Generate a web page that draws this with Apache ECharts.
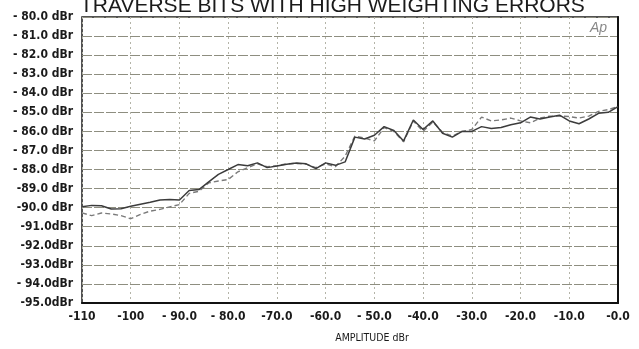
<!DOCTYPE html>
<html>
<head>
<meta charset="utf-8">
<script src="https://cdn.jsdelivr.net/npm/echarts@6/dist/echarts.min.js"></script>
<style>
  html, body { margin: 0; padding: 0; background: #ffffff; }
  #chart { width: 639px; height: 349px; }
</style>
</head>
<body>
<div id="chart"></div>
<script>
// Amplitude sweep points (dBr), 2 dB steps
const amplitude = [
  -110, -108, -106, -104, -102, -100, -98, -96, -94, -92,
  -90, -88, -86, -84, -82, -80, -78, -76, -74, -72,
  -70, -68, -66, -64, -62, -60, -58, -56, -54, -52,
  -50, -48, -46, -44, -42, -40, -38, -36, -34, -32,
  -30, -28, -26, -24, -22, -20, -18, -16, -14, -12,
  -10, -8, -6, -4, -2, 0
];

// Measured level, trace A (solid)
const levelA = [
  -89.95, -89.88, -89.90, -90.07, -90.06, -89.93, -89.82, -89.72, -89.60, -89.57,
  -89.60, -89.10, -89.05, -88.65, -88.25, -88.00, -87.74, -87.80, -87.65, -87.90,
  -87.82, -87.72, -87.66, -87.70, -87.95, -87.65, -87.78, -87.60, -86.30, -86.40,
  -86.20, -85.75, -85.95, -86.50, -85.40, -85.90, -85.45, -86.10, -86.30, -86.00,
  -86.00, -85.75, -85.85, -85.80, -85.65, -85.55, -85.25, -85.35, -85.25, -85.15,
  -85.45, -85.60, -85.35, -85.05, -85.00, -84.70
];

// Measured level, trace B (dashed)
const levelB = [
  -90.27, -90.42, -90.28, -90.33, -90.42, -90.58, -90.35, -90.18, -90.09, -89.96,
  -89.84, -89.25, -89.14, -88.70, -88.60, -88.52, -88.12, -87.90, -87.70, -87.85,
  -87.80, -87.70, -87.68, -87.72, -87.90, -87.70, -87.85, -87.30, -86.25, -86.35,
  -86.50, -85.80, -86.00, -86.55, -85.45, -86.00, -85.50, -86.05, -86.25, -86.00,
  -85.90, -85.25, -85.45, -85.40, -85.30, -85.45, -85.55, -85.30, -85.20, -85.20,
  -85.22, -85.30, -85.20, -84.95, -84.86, -84.70
];

// Axis tick labels
const xTickValues = [-110, -100, -90, -80, -70, -60, -50, -40, -30, -20, -10, 0];
const xTickLabels = ['-110', '-100', '- 90.0', '- 80.0', '-70.0', '-60.0', '- 50.0', '-40.0', '-30.0', '-20.0', '-10.0', '-0.0'];
const yTickValues = [-95, -94, -93, -92, -91, -90, -89, -88, -87, -86, -85, -84, -83, -82, -81, -80];
const yTickLabels = ['-95.0dBr', '- 94.0dBr', '-93.0dBr', '-92.0dBr', '-91.0dBr', '-90.0 dBr', '-89.0 dBr', '- 88.0 dBr',
                     '- 87.0 dBr', '- 86.0 dBr', '- 85.0 dBr', '- 84.0 dBr', '- 83.0 dBr', '- 82.0 dBr', '- 81.0 dBr', '- 80.0 dBr'];

const plotFont = "'DejaVu Sans Condensed', 'DejaVu Sans', sans-serif";

const chart = echarts.init(document.getElementById('chart'), null, { renderer: 'canvas' });

function pairs(ys) {
  return amplitude.map((x, i) => [x, ys[i]]);
}

chart.setOption({
  backgroundColor: '#ffffff',
  animation: false,
  title: {
    text: 'TRAVERSE BITS WITH HIGH WEIGHTING ERRORS',
    left: 75,
    top: -9,
    textStyle: {
      fontFamily: "'Liberation Sans', Arial, sans-serif",
      fontWeight: 'normal',
      fontSize: 21,
      color: '#1a1a1a'
    }
  },
  grid: {
    left: 82,
    right: 21,
    top: 17,
    bottom: 45,
    show: true,
    borderColor: '#1a1a1a',
    borderWidth: 1.5,
    backgroundColor: 'transparent'
  },
  xAxis: {
    type: 'value',
    min: -110,
    max: 0,
    interval: 10,
    name: 'AMPLITUDE dBr',
    nameLocation: 'middle',
    nameGap: 30,
    nameTextStyle: {
      fontFamily: plotFont,
      fontSize: 10.5,
      color: '#1a1a1a',
      padding: [0, 0, 0, 44]
    },
    axisLine: { show: true, lineStyle: { color: '#111', width: 2 } },
    axisTick: { show: false },
    axisLabel: {
      margin: 8,
      fontFamily: plotFont,
      fontWeight: 'bold',
      fontSize: 12,
      color: '#1a1a1a',
      formatter: function (v) {
        const i = xTickValues.indexOf(v);
        return i >= 0 ? xTickLabels[i] : '';
      }
    },
    splitLine: {
      show: true,
      lineStyle: { color: '#b4b4a8', width: 1, type: [2, 3] }
    }
  },
  yAxis: {
    type: 'value',
    min: -95,
    max: -80,
    interval: 1,
    axisLine: { show: true, lineStyle: { color: '#111', width: 2 } },
    axisTick: { show: false },
    axisLabel: {
      margin: 9,
      fontFamily: plotFont,
      fontWeight: 'bold',
      fontSize: 12,
      color: '#1a1a1a',
      formatter: function (v) {
        const i = yTickValues.indexOf(Math.round(v));
        return i >= 0 ? yTickLabels[i] : '';
      }
    },
    splitLine: {
      show: true,
      lineStyle: { color: '#8e8e80', width: 1, type: [10, 2] }
    }
  },
  graphic: [
    {
      type: 'text',
      left: 590,
      top: 21,
      style: {
        text: 'Ap',
        fontFamily: "'Liberation Sans', Arial, sans-serif",
        fontStyle: 'italic',
        fontSize: 14,
        fill: '#888888'
      }
    }
  ],
  series: [
    {
      name: 'B',
      type: 'line',
      data: pairs(levelB),
      showSymbol: false,
      smooth: false,
      lineStyle: { color: '#7a7a7a', width: 1.4, type: [5, 3] },
      z: 2
    },
    {
      name: 'A',
      type: 'line',
      data: pairs(levelA),
      showSymbol: false,
      smooth: false,
      lineStyle: { color: '#3c3c3c', width: 1.5 },
      z: 3
    }
  ]
});
</script>
</body>
</html>
